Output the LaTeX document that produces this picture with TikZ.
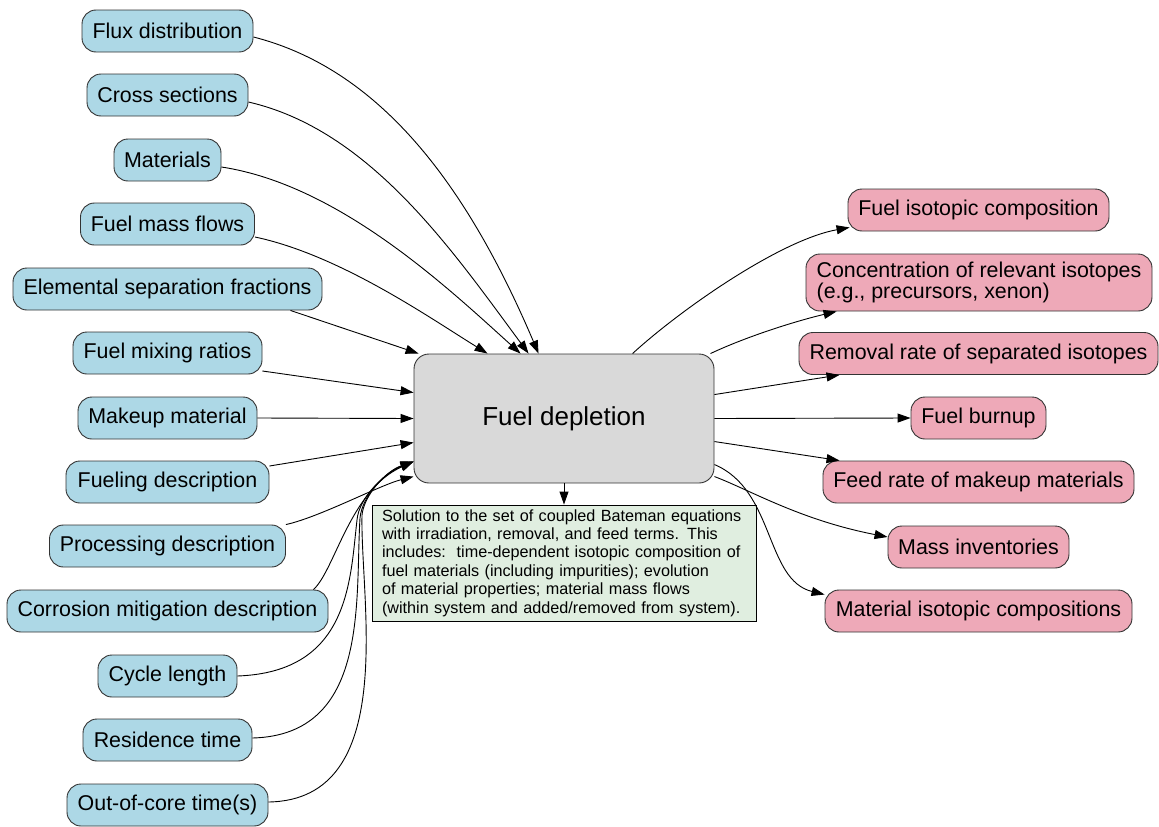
\documentclass[tikz,border=0pt]{standalone}
\usepackage{fontspec}
\setmainfont{Liberation Sans}
\usetikzlibrary{arrows.meta}
\definecolor{inblue}{HTML}{ADD8E6}
\definecolor{outpink}{HTML}{EEA9B8}
\definecolor{coregray}{HTML}{D9D9D9}
\definecolor{notegreen}{HTML}{E0EEE0}
\definecolor{edgegray}{HTML}{333333}
\tikzset{
  inbox/.style={draw=edgegray, line width=0.9pt, fill=inblue, rounded corners=14pt, minimum height=42pt, inner sep=0pt, font=\fontsize{21.4}{21.5}\selectfont},
  outbox/.style={draw=edgegray, line width=0.9pt, fill=outpink, rounded corners=14pt, minimum height=42pt, inner sep=0pt, font=\fontsize{21.4}{21.5}\selectfont},
  corebox/.style={draw=edgegray, line width=0.9pt, fill=coregray, rounded corners=15pt, minimum width=300pt, minimum height=129pt, inner sep=0pt, font=\fontsize{26}{28}\selectfont},
  notebox/.style={draw=black, line width=0.9pt, fill=notegreen, minimum width=384pt, minimum height=116pt, inner xsep=10pt, inner ysep=0pt, text width=364pt, align=left, font=\fontsize{16.2}{18.4}\selectfont},
  conn/.style={-{Triangle[length=13pt,width=9pt]}, line width=0.9pt, black}
}
\begin{document}
\begin{tikzpicture}[x=1pt,y=-1pt]
\useasboundingbox (0,0) rectangle (1159,827);
% core
\node[corebox] (fd) at (564,418.5) {Fuel depletion};
\node[notebox] (note) at (564,563) {Solution to the set of coupled Bateman equations\\
with irradiation, removal, and feed terms. This\\
includes:\, time-dependent isotopic composition of\\
fuel materials (including impurities); evolution\\
of material properties; material mass flows\\
(within system and added/removed from system).};
% inputs
\node[inbox, minimum width=171pt] (flux) at (167.5,31) {Flux distribution};
\node[inbox, minimum width=161pt] (xs) at (167.5,95) {Cross sections};
\node[inbox, minimum width=107pt] (mat) at (167.5,160) {Materials};
\node[inbox, minimum width=174pt] (fmf) at (167.5,224) {Fuel mass flows};
\node[inbox, minimum width=309pt] (esf) at (167.5,289) {Elemental separation fractions};
\node[inbox, minimum width=189pt] (fmr) at (167.5,353) {Fuel mixing ratios};
\node[inbox, minimum width=179pt] (mm) at (167.5,418) {Makeup material};
\node[inbox, minimum width=203pt] (fdesc) at (167.5,482) {Fueling description};
\node[inbox, minimum width=236pt] (pdesc) at (167.5,546) {Processing description};
\node[inbox, minimum width=321pt] (cmd) at (167.5,611) {Corrosion mitigation description};
\node[inbox, minimum width=139pt] (cl) at (167.5,676) {Cycle length};
\node[inbox, minimum width=169pt] (rt) at (167.5,740) {Residence time};
\node[inbox, minimum width=201pt] (oct) at (167.5,805) {Out-of-core time(s)};
% outputs
\node[outbox, minimum width=261pt] (fic) at (978.5,210) {Fuel isotopic composition};
\node[outbox, minimum width=346pt, minimum height=57pt, align=left] (cri) at (979,282.5) {Concentration of relevant isotopes\\(e.g., precursors, xenon)};
\node[outbox, minimum width=359pt] (rr) at (978.5,353.5) {Removal rate of separated isotopes};
\node[outbox, minimum width=135pt] (fb) at (978.5,418) {Fuel burnup};
\node[outbox, minimum width=311pt] (frm) at (978.5,482) {Feed rate of makeup materials};
\node[outbox, minimum width=181pt] (mi) at (978.5,547) {Mass inventories};
\node[outbox, minimum width=307pt] (mic) at (978.5,611) {Material isotopic compositions};
% input connectors
\draw[conn] ([yshift=-6pt]flux.east) .. controls (383,70) and (469,190) .. ([xshift=125pt]fd.north west);
\draw[conn] ([yshift=-7pt]xs.east) .. controls (370,130) and (452,250) .. ([xshift=115pt]fd.north west);
\draw[conn] ([yshift=-7pt]mat.east) .. controls (340,185) and (450,290) .. ([xshift=107pt]fd.north west);
\draw[conn] ([yshift=-13pt]fmf.east) .. controls (340,255) and (430,318) .. ([xshift=74pt]fd.north west);
\draw[conn] ([xshift=-32pt]esf.south east) -- ([xshift=5pt]fd.north west);
\draw[conn] ([yshift=-18pt]fmr.east) -- ([yshift=-39pt]fd.north west);
\draw[conn] (mm.east) -- (fd.west);
\draw[conn] ([yshift=16pt]fdesc.east) -- ([yshift=-89pt]fd.north west);
\draw[conn] (pdesc.north east) .. controls (320,517) and (380,485) .. ([yshift=-123pt]fd.north west);
\draw[conn] ([xshift=-15pt]cmd.north east) .. controls (335,570) and (350,490) .. ([yshift=-108pt]fd.north west);
\draw[conn] (cl.east) .. controls (350,672) and (350,580) .. (357,520)
  .. controls (359,497) and (385,473) .. ([yshift=-108pt]fd.north west);
\draw[conn] ([yshift=2pt]rt.east) .. controls (370,735) and (355,600) .. (360,518)
  .. controls (362,496) and (385,472) .. ([yshift=-108pt]fd.north west);
\draw[conn] ([yshift=3pt]oct.east) .. controls (400,800) and (360,600) .. (362,515)
  .. controls (364,495) and (386,471) .. ([yshift=-108pt]fd.north west);
% output connectors
\draw[conn] ([xshift=219pt]fd.north west) .. controls (680,310) and (780,240) .. ([xshift=2pt,yshift=4pt]fic.south west);
\draw[conn] ([xshift=-4pt]fd.north east) .. controls (750,335) and (800,320) .. ([xshift=31pt]cri.south west);
\draw[conn] ([yshift=-41pt]fd.north east) -- ([xshift=41pt]rr.south west);
\draw[conn] (fd.east) -- (fb.west);
\draw[conn] ([yshift=-88pt]fd.north east) -- ([xshift=17pt]frm.north west);
\draw[conn] ([yshift=-123pt]fd.north east) .. controls (750,490) and (800,520) .. ([yshift=10pt]mi.west);
\draw[conn] ([yshift=-111pt]fd.north east) .. controls (775,490) and (765,580) .. ([yshift=-5pt]mic.north west);
% note
\draw[conn] (fd.south) -- (note.north);
\end{tikzpicture}
\end{document}
